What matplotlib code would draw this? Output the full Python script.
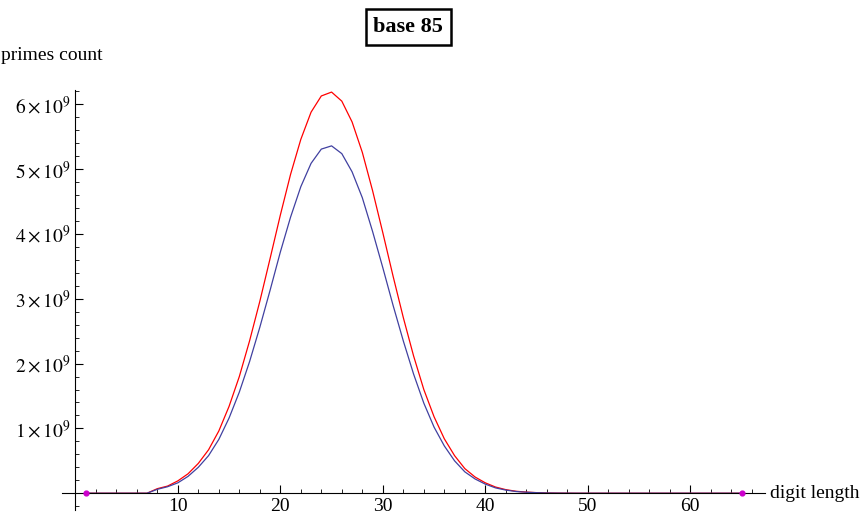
import matplotlib
matplotlib.use("Agg")
import matplotlib.pyplot as plt
from matplotlib.ticker import MultipleLocator, FixedLocator

plt.rcParams['font.family'] = ['Liberation Serif', 'DejaVu Serif']
plt.rcParams['mathtext.fontset'] = 'stix'

digits = list(range(1, 66))
red_nz = [0.07,0.11,0.19,0.30,0.46,0.67,0.96,1.34,1.80,2.35,2.96,3.62,4.29,4.92,5.46,5.88,6.13,6.19,6.05,5.73,5.26,4.67,4.02,3.35,2.71,2.12,1.60,1.18,0.84,0.58,0.38,0.25,0.16,0.095,0.055,0.03,0.017,0.009,0.004,0.002,0.001]
blue_nz = [0.06,0.10,0.16,0.26,0.40,0.58,0.83,1.16,1.56,2.03,2.56,3.13,3.72,4.26,4.73,5.09,5.31,5.36,5.24,4.96,4.56,4.04,3.48,2.90,2.35,1.84,1.39,1.02,0.73,0.50,0.33,0.22,0.14,0.082,0.048,0.026,0.015,0.008,0.0035,0.0017,0.0009]
red = [0.0]*7 + red_nz + [0.0]*(65 - 7 - len(red_nz))
blue = [0.0]*7 + blue_nz + [0.0]*(65 - 7 - len(blue_nz))
endpoints_x = [1, 65]
endpoints_y = [0, 0]
yticks = [1, 2, 3, 4, 5, 6]

fig = plt.figure(figsize=(8.67, 5.21), dpi=100)
ax = fig.add_axes([0.0715, 0.021, 0.811, 0.806])
ax.plot(digits, [v*1e9 for v in red], color='#ff0000', lw=0.9, solid_joinstyle='round')
ax.plot(digits, [v*1e9 for v in blue], color='#4040a0', lw=0.9, solid_joinstyle='round')
ax.scatter(endpoints_x, endpoints_y, color='#cc00cc', s=12, zorder=5)
ax.set_xlim(-1.3, 67.3)
ax.set_ylim(-0.26e9, 6.22e9)
for s in ['top', 'right']:
    ax.spines[s].set_visible(False)
ax.spines['left'].set_position(('data', 0))
ax.spines['bottom'].set_position(('data', 0))
ax.xaxis.set_major_locator(FixedLocator([10, 20, 30, 40, 50, 60]))
ax.xaxis.set_minor_locator(MultipleLocator(2))
ax.yaxis.set_major_locator(FixedLocator([v*1e9 for v in yticks]))
ax.yaxis.set_minor_locator(MultipleLocator(0.2e9))
ax.set_yticklabels([r'$%d\times10^{9}$' % v for v in yticks])
ax.tick_params(which='major', direction='in', length=6, labelsize=14)
ax.tick_params(which='minor', direction='in', length=3)
ax.text(67.8, 0, 'digit length', fontsize=14, va='center', ha='left', clip_on=False)
ax.text(-2.3, 6.76e9, 'primes count', fontsize=14, va='center', ha='center', clip_on=False)
fig.text(0.471, 0.948, 'base 85', fontsize=16, fontweight='bold', ha='center', va='center',
         bbox=dict(boxstyle='square,pad=0.35', fc='white', ec='black', lw=1.8))
fig.savefig('out.png', dpi=100)
